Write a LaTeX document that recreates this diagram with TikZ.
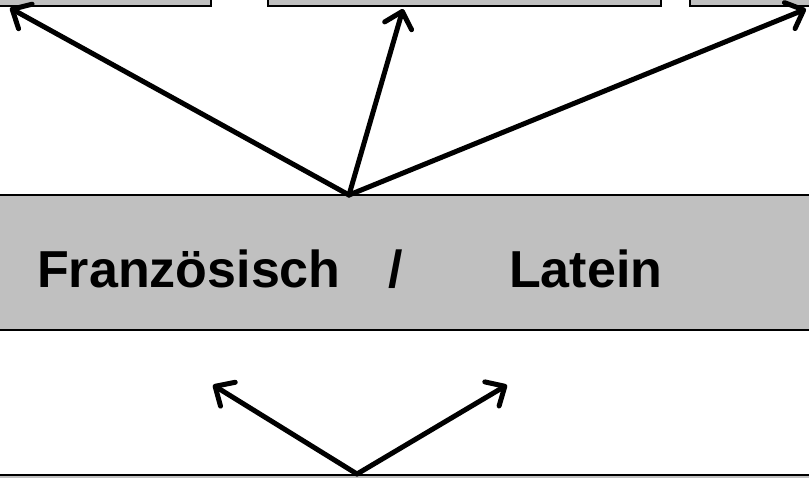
\documentclass[tikz,border=0pt]{standalone}
\usepackage{fontspec}
\setmainfont{Liberation Sans}
\usetikzlibrary{arrows.meta}
\definecolor{boxgray}{RGB}{192,192,192}
\tikzset{
  graybox/.style={draw=black, line width=1.8pt, fill=boxgray},
  arr/.style={line width=5pt, -{Straight Barb[length=15pt,width=28pt,line cap=round,line join=round]}, line cap=round},
  big/.style={font=\bfseries\fontsize{52}{60}\selectfont, inner sep=0pt, anchor=base west}
}
\begin{document}
\begin{tikzpicture}[x=1pt,y=-1pt]
\useasboundingbox (0,0) rectangle (809,477);
\clip (0,0) rectangle (809,477);
% boxes
\draw[graybox] (-10,-50) rectangle (211,6);
\draw[graybox] (268,-50) rectangle (661,6);
\draw[graybox] (690,-50) rectangle (830,6);
\draw[graybox] (-10,195) rectangle (830,330);
\draw[graybox] (-10,475) rectangle (830,540);
% text
\node[big] (fr) at (37,287) {Französisch};
\node[big] (sl) at (388,287) {/};
\node[big] (la) at (509,287) {Latein};
% coordinates
\coordinate (m) at (349,195);
\coordinate (tl) at (10,8);
\coordinate (tm) at (403,9);
\coordinate (tr) at (806,9);
\coordinate (b) at (357,474);
\coordinate (bl) at (213,385);
\coordinate (br) at (507,385);
% arrows
\draw[arr] (m) -- (tl);
\draw[arr] (m) -- (tm);
\draw[arr] (m) -- (tr);
\draw[arr] (b) -- (bl);
\draw[arr] (b) -- (br);
\end{tikzpicture}
\end{document}
